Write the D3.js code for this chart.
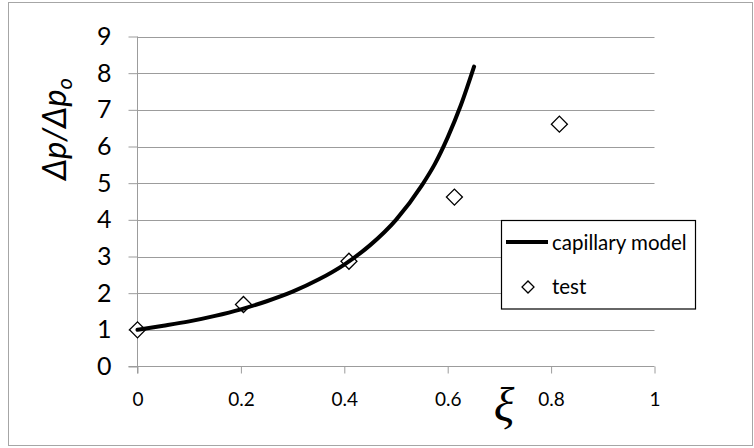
<!DOCTYPE html>
<html>
<head>
<meta charset="utf-8">
<script src="https://cdn.jsdelivr.net/npm/d3@7"></script>
<style>
  body { margin: 0; background: #fff; }
  svg { display: block; }
</style>
</head>
<body>
<svg id="chart" width="754" height="448"></svg>
<script>
// Capillary model curve (ξ, Δp/Δpo)
const modelXi    = [0, 0.05, 0.1, 0.15, 0.2, 0.25, 0.3, 0.35, 0.4, 0.45, 0.5, 0.55, 0.575, 0.6, 0.625, 0.651];
const modelRatio = [1.0, 1.11, 1.23, 1.38, 1.56, 1.78, 2.04, 2.37, 2.78, 3.31, 4.0, 4.94, 5.52, 6.25, 7.11, 8.18];

// Test measurements
const testXi    = [0, 0.205, 0.409, 0.613, 0.816];
const testRatio = [1.0, 1.69, 2.87, 4.62, 6.61];

// Axis ticks
const xTicks = [0, 0.2, 0.4, 0.6, 0.8, 1];
const xTickLabels = ["0", "0.2", "0.4", "0.6", "0.8", "1"];
const yTicks = [0, 1, 2, 3, 4, 5, 6, 7, 8, 9];
const yTickLabels = ["0", "1", "2", "3", "4", "5", "6", "7", "8", "9"];

const legendLabels = ["capillary model", "test"];

const svg = d3.select("#chart");
const FONT = "Lato, 'Open Sans', sans-serif";
const GRID = "#9c9c9c";

// chart frame
svg.append("rect")
  .attr("x", 8.5).attr("y", 2.5)
  .attr("width", 744).attr("height", 443)
  .attr("fill", "#fff").attr("stroke", "#a6a6a6").attr("stroke-width", 1);

const x = d3.scaleLinear().domain([0, 1]).range([137.5, 654.5]);
const y = d3.scaleLinear().domain([0, 9]).range([366.5, 36.5]);

// horizontal gridlines
svg.append("g")
  .selectAll("line")
  .data(yTicks.filter(d => d > 0))
  .join("line")
  .attr("x1", x(0)).attr("x2", x(1))
  .attr("y1", d => Math.round(y(d)) + 0.5).attr("y2", d => Math.round(y(d)) + 0.5)
  .attr("stroke", GRID).attr("stroke-width", 1);

// y axis
const yAxis = svg.append("g")
  .attr("transform", `translate(${x(0)},0)`)
  .call(d3.axisLeft(y).tickValues(yTicks).tickFormat((d, i) => yTickLabels[i])
    .tickSize(9).tickPadding(17).tickSizeOuter(0));
yAxis.select(".domain").attr("stroke", GRID).attr("d", `M0,${y(9)}V${y(0) + 7}`);
yAxis.selectAll(".tick line").attr("stroke", GRID);
yAxis.selectAll(".tick text")
  .attr("font-family", FONT).attr("font-size", 25).attr("fill", "#000");

// x axis
const xAxis = svg.append("g")
  .attr("transform", `translate(0,${y(0)})`)
  .call(d3.axisBottom(x).tickValues(xTicks).tickFormat((d, i) => xTickLabels[i])
    .tickSize(7).tickPadding(19).tickSizeOuter(0));
xAxis.select(".domain").attr("stroke", GRID).attr("d", `M${x(0) - 9},0H${x(1)}`);
xAxis.selectAll(".tick line").attr("stroke", GRID);
xAxis.selectAll(".tick text")
  .attr("font-family", FONT).attr("font-size", 19).attr("fill", "#000");

// test markers (open diamonds)
const diamond = d3.symbol().type(d3.symbolSquare).size(128);
svg.append("g")
  .selectAll("path")
  .data(testXi.map((v, i) => [v, testRatio[i]]))
  .join("path")
  .attr("d", diamond)
  .attr("transform", d => `translate(${x(d[0])},${y(d[1])}) rotate(45)`)
  .attr("fill", "#fff").attr("stroke", "#000").attr("stroke-width", 1.3);

// model curve
const line = d3.line()
  .x(d => x(d[0])).y(d => y(d[1]))
  .curve(d3.curveMonotoneX);
svg.append("path")
  .datum(modelXi.map((v, i) => [v, modelRatio[i]]))
  .attr("d", line)
  .attr("fill", "none").attr("stroke", "#000")
  .attr("stroke-width", 4).attr("stroke-linecap", "round").attr("stroke-linejoin", "round");

// axis titles
svg.append("text")
  .attr("transform", "translate(66,129) rotate(-90)")
  .attr("text-anchor", "middle")
  .attr("font-family", FONT).attr("font-style", "italic").attr("font-size", 33)
  .attr("fill", "#000")
  .call(t => {
    t.append("tspan").text("Δp/Δp");
    t.append("tspan").attr("font-size", 22).attr("dy", 6).text("o");
  });

svg.append("text")
  .attr("x", 504).attr("y", 421)
  .attr("text-anchor", "middle")
  .attr("font-family", "'Liberation Serif', serif").attr("font-style", "italic")
  .attr("font-size", 48).attr("fill", "#000")
  .text("ξ");

// legend
const lg = svg.append("g");
lg.append("rect")
  .attr("x", 501.5).attr("y", 220.5).attr("width", 194).attr("height", 88.5)
  .attr("fill", "#fff").attr("stroke", "#000").attr("stroke-width", 1.2);
lg.append("line")
  .attr("x1", 506).attr("x2", 548).attr("y1", 242).attr("y2", 242)
  .attr("stroke", "#000").attr("stroke-width", 4);
lg.append("path")
  .attr("d", d3.symbol().type(d3.symbolSquare).size(72))
  .attr("transform", "translate(528,287) rotate(45)")
  .attr("fill", "#fff").attr("stroke", "#000").attr("stroke-width", 1.3);
lg.selectAll("text.lab")
  .data(legendLabels)
  .join("text")
  .attr("class", "lab")
  .attr("x", 552).attr("y", (d, i) => i === 0 ? 250 : 294)
  .attr("font-family", FONT).attr("font-size", 20.5).attr("fill", "#000")
  .text(d => d);
</script>
</body>
</html>
